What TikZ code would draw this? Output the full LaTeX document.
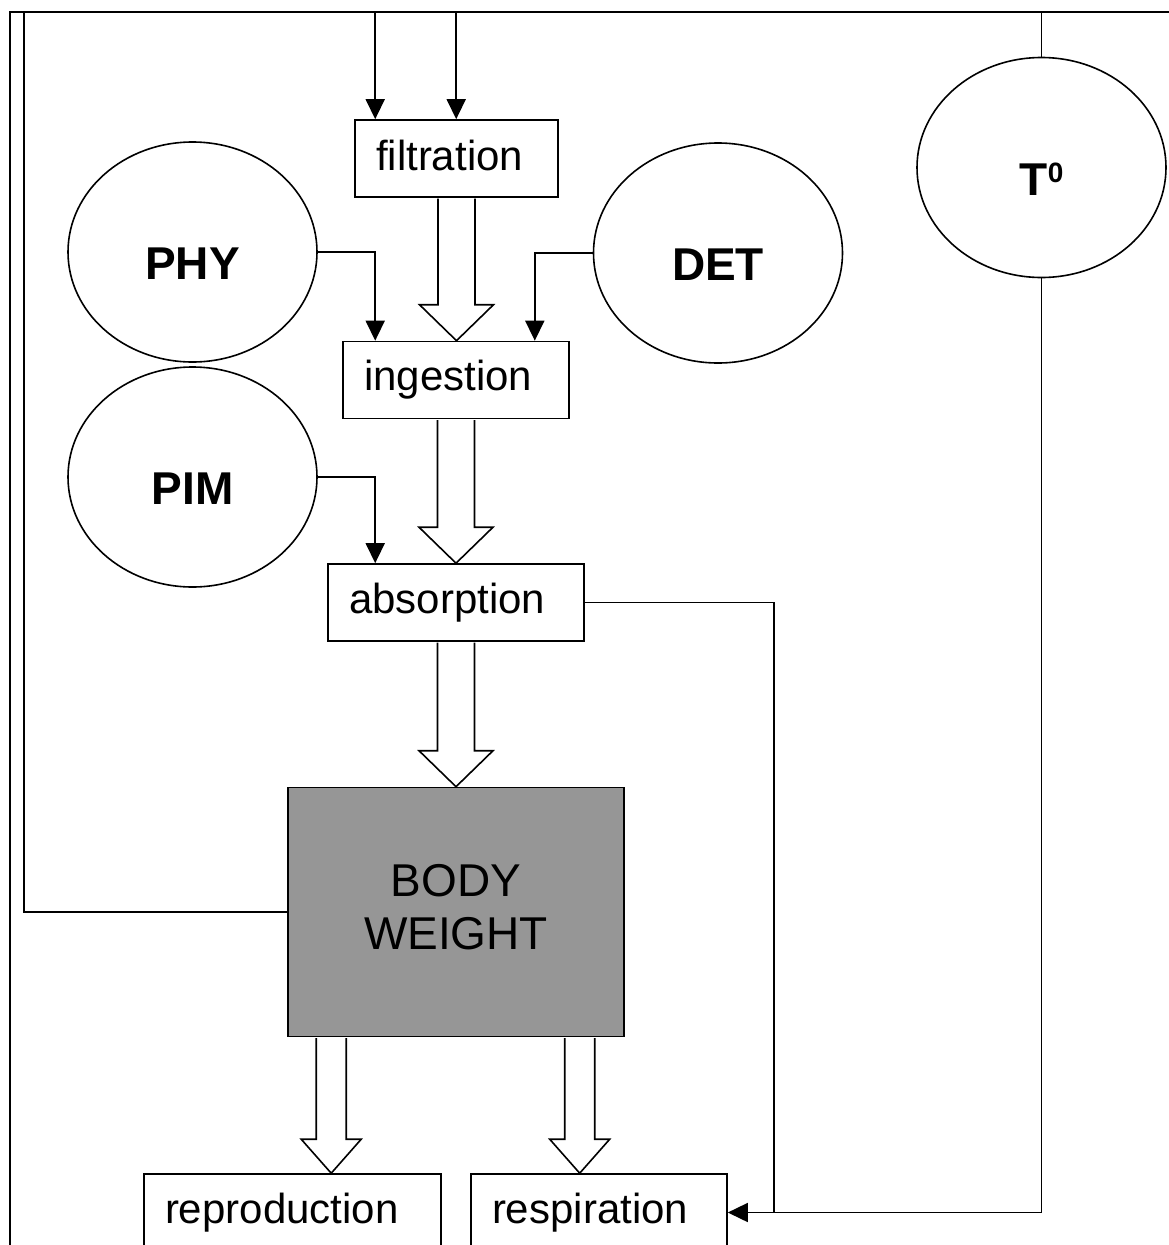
\documentclass[tikz,border=0pt]{standalone}
\usepackage{fontspec}
\setmainfont{Liberation Sans}[Ligatures=NoCommon]
\usetikzlibrary{arrows.meta,calc,shapes.geometric}
\definecolor{bodygray}{RGB}{150,150,150}
\newcommand{\blockarr}[5]{%
  \draw[blk] let \p1=(#1), \p2=(#2) in
    (\x1-#3,\y1-0.75pt) -- (\x1-#3,\y2+#5) -- (\x1-#4,\y2+#5) -- (\x1,\y2)
    -- (\x1+#4,\y2+#5) -- (\x1+#3,\y2+#5) -- (\x1+#3,\y1-0.75pt);
}
\newcommand{\lowstrut}[1]{\rule[-#1]{0pt}{#1}}
\begin{document}
\begin{tikzpicture}[x=1pt,y=-1pt,
  ln/.style={line width=1.6pt},
  arr/.style={ln,-{Triangle[length=20pt,width=19pt]}},
  framel/.style={line width=2.4pt},
  box/.style={draw,line width=1.6pt,rectangle,inner sep=0pt,minimum height=77pt,align=left,font=\fontsize{42}{50}\selectfont},
  oval/.style={draw,line width=1.6pt,ellipse,inner sep=0pt,minimum width=249pt,minimum height=220pt},
  olbl/.style={font=\bfseries\fontsize{46}{50}\selectfont,yshift=-12pt},
  blk/.style={draw,fill=white,line width=1.6pt,line join=miter},
]
\useasboundingbox (0,0) rectangle (1169,1245);
\clip (0,0) rectangle (1169,1245);

% frame / bus
\coordinate (tl) at (10,12);
\coordinate (tr) at (1175,12);
\coordinate (bl) at (10,1260);
\draw[framel] (bl) -- (tl) -- (tr);

% boxes
\node[box,minimum width=203pt,text width=161pt] (filt) at (456.5,158.5) {filtration\lowstrut{7pt}};
\node[box,minimum width=226pt,text width=184pt] (ing) at (456,380) {ingestion};
\node[box,minimum width=256pt,text width=214pt] (abs) at (456,602.5) {absorption};
\node[draw,line width=1.6pt,fill=bodygray,inner sep=0pt,minimum width=336pt,minimum height=249pt,
      align=center,font=\fontsize{46}{53}\selectfont] (body) at (456,912) {BODY\\WEIGHT\lowstrut{10pt}};
\node[box,minimum width=297pt,text width=255pt] (repro) at (292.5,1212.5) {reproduction};
\node[box,minimum width=256pt,text width=214pt] (resp) at (599,1212.5) {respiration};

% ellipses
\node[oval,label={[olbl]center:PHY}] (phy) at (192.5,252) {};
\node[oval,label={[olbl]center:DET}] (det) at (718,253) {};
\node[oval,label={[olbl]center:PIM}] (pim) at (192.5,477) {};
\node[oval,label={[olbl]center:T\raisebox{13pt}{\fontsize{28}{28}\selectfont 0}}] (t0) at (1041.5,167.5) {};

% inputs to filtration
\coordinate (fin1) at ($(filt.north west)+(21,0)$);
\coordinate (fin2) at ($(filt.north west)+(102,0)$);
\draw[arr] (fin1 |- tl) -- (fin1);
\draw[arr] (fin2 |- tl) -- (fin2);

% PHY, DET -> ingestion ; PIM -> absorption
\coordinate (ingphy) at ($(ing.north west)+(33,0)$);
\coordinate (ingdet) at ($(ing.north east)+(-35,0)$);
\coordinate (abspim) at ($(abs.north west)+(48,0)$);
\draw[arr] (phy.east) -| (ingphy);
\draw[arr] (det.west) -| (ingdet);
\draw[arr] (pim.east) -| (abspim);

% block arrows
\blockarr{filt.south}{ing.north}{18.5pt}{37pt}{36pt}
\blockarr{ing.south}{abs.north}{18.5pt}{37pt}{36pt}
\blockarr{abs.south}{body.north}{18.5pt}{37pt}{36pt}
\coordinate (bs1) at ($(body.south west)+(44,0)$);
\coordinate (bs2) at ($(body.south west)+(292.5,0)$);
\blockarr{bs1}{repro.north}{15pt}{30pt}{34pt}
\blockarr{bs2}{resp.north}{15pt}{30pt}{34pt}

% feedback from body weight to the top bus
\coordinate (fbc) at (24,12);
\draw[ln] (body.west) -| (fbc);

% temperature line
\draw[ln] (t0.north) -- (t0.north |- tl);
\draw[arr] (t0.south) |- (resp.east);

% absorption -> respiration
\coordinate (junc) at ($(resp.east)+(46,0)$);
\draw[ln] (abs.east) -| (junc);
\end{tikzpicture}
\end{document}
